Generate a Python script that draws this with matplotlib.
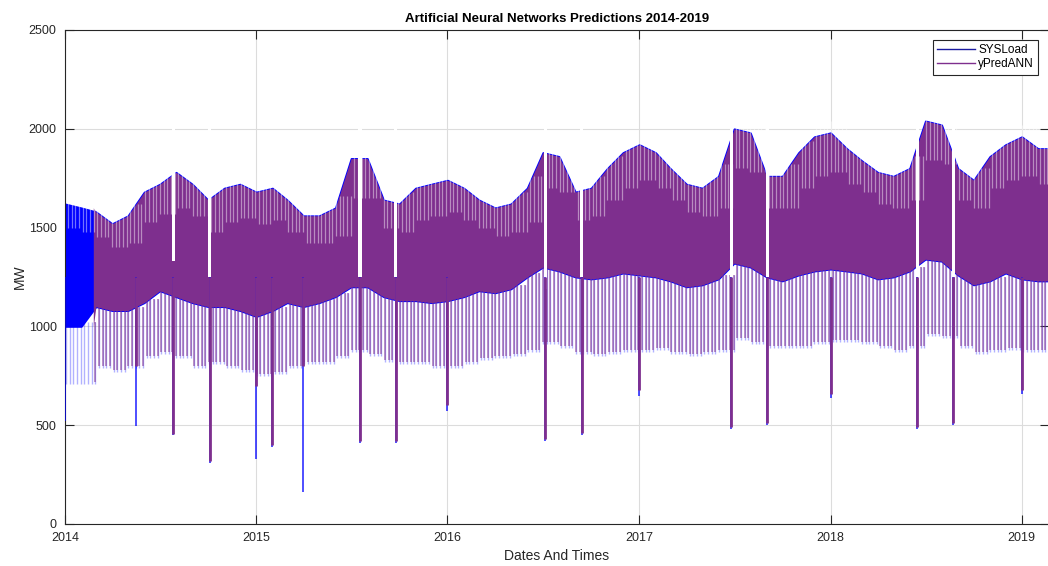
import numpy as np
import pandas as pd
import matplotlib
matplotlib.use("Agg")
import matplotlib.pyplot as plt
import matplotlib.dates as mdates
from matplotlib.lines import Line2D

plt.rcParams['font.family'] = ['Liberation Sans', 'DejaVu Sans']

# monthly envelope values (Jan 2014 .. Feb 2019), MW
months = pd.date_range("2014-01-01", "2019-02-01", freq="MS")
peak = [1620, 1600, 1580, 1520, 1560, 1680, 1720, 1780, 1720, 1640, 1700, 1720,
        1680, 1700, 1640, 1560, 1560, 1600, 1850, 1850, 1640, 1620, 1700, 1720,
        1740, 1700, 1640, 1600, 1620, 1700, 1880, 1860, 1680, 1700, 1800, 1880,
        1920, 1880, 1800, 1720, 1700, 1760, 2000, 1980, 1760, 1760, 1880, 1960,
        1980, 1900, 1840, 1780, 1760, 1800, 2040, 2020, 1800, 1740, 1860, 1920,
        1960, 1900]
core_top = [1500, 1480, 1450, 1400, 1420, 1530, 1570, 1600, 1560, 1480, 1530, 1550,
            1520, 1540, 1480, 1420, 1420, 1460, 1650, 1650, 1500, 1480, 1540, 1560,
            1580, 1540, 1500, 1460, 1480, 1530, 1700, 1680, 1540, 1560, 1640, 1700,
            1740, 1700, 1640, 1580, 1560, 1600, 1800, 1780, 1600, 1600, 1700, 1760,
            1780, 1720, 1680, 1620, 1600, 1640, 1840, 1820, 1640, 1600, 1700, 1740,
            1760, 1720]
core_bot = [1000, 1000, 1100, 1080, 1080, 1120, 1180, 1150, 1120, 1100, 1100, 1080,
            1050, 1080, 1120, 1100, 1120, 1150, 1200, 1200, 1150, 1130, 1130, 1120,
            1130, 1150, 1180, 1170, 1190, 1250, 1300, 1280, 1250, 1240, 1250, 1270,
            1260, 1250, 1230, 1200, 1210, 1240, 1320, 1300, 1250, 1230, 1260, 1280,
            1290, 1280, 1270, 1240, 1250, 1280, 1340, 1330, 1260, 1210, 1230, 1270,
            1240, 1230]
low = [720, 720, 800, 780, 800, 850, 870, 850, 800, 820, 800, 780,
       760, 770, 800, 820, 820, 850, 880, 860, 830, 820, 820, 800,
       800, 820, 840, 850, 860, 880, 920, 900, 870, 860, 870, 880,
       880, 890, 870, 860, 870, 880, 940, 920, 900, 900, 900, 920,
       930, 930, 920, 900, 880, 900, 960, 950, 900, 870, 880, 890,
       880, 880]

pred_start = pd.Timestamp("2014-02-24")

# holiday dips: date, SYSLoad minimum, prediction minimum
dip_dates = ["2014-01-01", "2014-05-16", "2014-07-27", "2014-10-04", "2015-01-01",
             "2015-01-31", "2015-03-31", "2015-07-18", "2015-09-24", "2016-01-01",
             "2016-07-06", "2016-09-13", "2017-01-01", "2017-06-26", "2017-09-02",
             "2018-01-01", "2018-06-16", "2018-08-23", "2019-01-01"]
dip_sys = [520, 495, 450, 310, 330, 390, 160, 410, 410, 570,
           420, 450, 650, 480, 500, 640, 480, 500, 660]
dip_pred = [np.nan, 800, 455, 320, 700, 400, 800, 420, 420, 600,
            430, 460, 680, 490, 510, 660, 490, 510, 680]
# white gaps in the band during the long holidays
gap_dates = ["2014-07-27", "2014-10-04", "2015-07-18", "2015-09-24", "2016-07-06",
             "2016-09-13", "2017-06-26", "2017-09-02", "2018-06-16", "2018-08-23"]
gap_top = [1330, 1250, 1250, 1250, 1190, 1250, 1250, 1250, 1250, 1250]

BLUE = "#0000ff"
PURPLE = "#7e2f8e"

fig = plt.figure(figsize=(10.48, 5.66), dpi=100)
ax = fig.add_axes([65 / 1048, 1 - 524 / 566, 984 / 1048, 494 / 566])

# anchor points for the band fill
x_anchor = list(months) + [pd.Timestamp("2019-02-28")]
peak_a = np.array(peak + peak[-1:], float)
bot_a = np.array(core_bot + core_bot[-1:], float)

days = pd.date_range("2014-01-01", "2019-02-28", freq="D")
m_idx = (days.year - 2014) * 12 + days.month - 1
peak_d = np.array(peak)[m_idx]
top_d = np.array(core_top)[m_idx]
bot_d = np.array(core_bot)[m_idx]
low_d = np.array(low)[m_idx]
stripe_mask = days.dayofweek == 1
down_mask = days.dayofweek == 4

# SYSLoad (blue)
ax.fill_between(x_anchor, bot_a, peak_a, color=BLUE, lw=1.3, edgecolor=BLUE, zorder=2)
ax.vlines(days[down_mask], low_d[down_mask] - 10, bot_d[down_mask] + 20, color=BLUE,
          lw=1.0, alpha=0.3, zorder=2)

# yPredANN (purple)
pm = days >= pred_start
first = int(np.argmax(np.array(x_anchor) > pred_start))
pred_x = [pred_start] + x_anchor[first:]
pred_top = np.concatenate([[peak[first - 1]], peak_a[first:]])
pred_bot = np.concatenate([[core_bot[first - 1]], bot_a[first:]])
ax.fill_between(pred_x, pred_bot, pred_top, color=PURPLE, lw=0, zorder=3)
ax.vlines(days[down_mask & pm], low_d[down_mask & pm], bot_d[down_mask & pm] + 20,
          color=PURPLE, lw=1.3, alpha=0.55, zorder=3)

# lighter daily-peak streaks in the upper part of the band
ax.vlines(days[stripe_mask], top_d[stripe_mask], peak_d[stripe_mask] + 60,
          color="white", lw=0.9, alpha=0.45, zorder=4)

# holiday gaps and dips
for d, t in zip(gap_dates, gap_top):
    d = pd.Timestamp(d)
    ax.fill_between([d - pd.Timedelta(days=3), d + pd.Timedelta(days=3)], t, 2150,
                    color="white", lw=0, zorder=4)
for d, s, p in zip(dip_dates, dip_sys, dip_pred):
    d = pd.Timestamp(d)
    ax.vlines(d, s, 1250, color=BLUE, lw=1.3, alpha=0.75, zorder=5)
    if not np.isnan(p):
        ax.vlines(d, p, 1250, color=PURPLE, lw=2.0, zorder=5)

ax.set_xlim(pd.Timestamp("2014-01-01"), pd.Timestamp("2019-02-22"))
ax.set_ylim(0, 2500)
ax.set_yticks([0, 500, 1000, 1500, 2000, 2500])
ax.xaxis.set_major_locator(mdates.YearLocator())
ax.xaxis.set_major_formatter(mdates.DateFormatter("%Y"))
ax.grid(True, color="#dcdcdc", lw=0.8, zorder=0)
ax.set_axisbelow(True)
ax.tick_params(direction="in", length=6.5, width=0.8, colors="#262626",
               labelsize=9, top=True, right=True, pad=6)
for sp in ax.spines.values():
    sp.set_color("#262626")
    sp.set_linewidth(0.8)

ax.set_title("Artificial Neural Networks Predictions 2014-2019", fontsize=9.5,
             fontweight="bold", color="#000000", pad=6)
ax.set_xlabel("Dates And Times", fontsize=10, color="#262626", labelpad=3)
ax.set_ylabel("MW", fontsize=10, color="#262626", labelpad=1)

handles = [Line2D([], [], color="#1a1aa0", lw=1.0),
           Line2D([], [], color=PURPLE, lw=1.0)]
leg = ax.legend(handles, ["SYSLoad", "yPredANN"], loc="upper right", fontsize=8.5,
                fancybox=False, framealpha=1, edgecolor="#262626",
                handlelength=3.2, borderaxespad=0.0, borderpad=0.35,
                labelspacing=0.2, handletextpad=0.3,
                bbox_to_anchor=(0.989, 0.980))
leg.get_frame().set_linewidth(0.8)
leg.set_zorder(10)

fig.savefig("out.png", dpi=100)
